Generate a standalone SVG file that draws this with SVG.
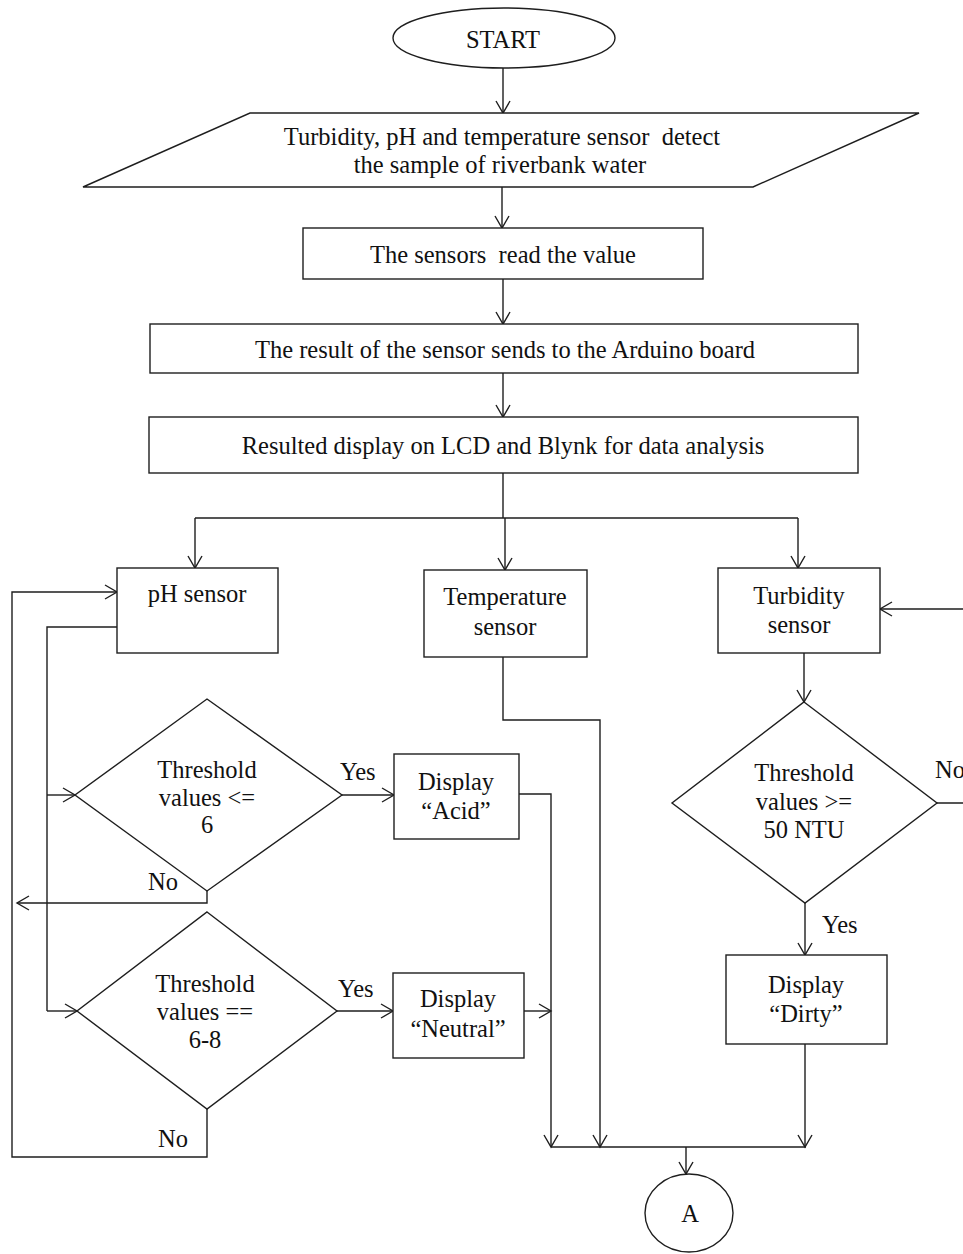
<svg xmlns="http://www.w3.org/2000/svg" width="963" height="1254" viewBox="0 0 963 1254">
<style>
.s{fill:#fff;stroke:#1e1e1e;stroke-width:1.4}
.c{fill:none;stroke:#1e1e1e;stroke-width:1.4}
text{font-family:"Liberation Serif","Times New Roman",serif;font-size:24.5px;fill:#111}
.m{text-anchor:middle}
</style>
<defs>
<marker id="ah" markerUnits="userSpaceOnUse" markerWidth="16" markerHeight="18" refX="13" refY="8" orient="auto">
<path d="M1,1 L13,8 L1,15" fill="none" stroke="#1e1e1e" stroke-width="1.4"/>
</marker>
</defs>
<rect width="963" height="1254" fill="#fff"/>
<g id="connectors">
<path class="c" d="M503,68 V113" marker-end="url(#ah)"/>
<path class="c" d="M502,187 V228" marker-end="url(#ah)"/>
<path class="c" d="M503,279 V324" marker-end="url(#ah)"/>
<path class="c" d="M503,373 V417" marker-end="url(#ah)"/>
<path class="c" d="M503,473 V518 M195,518 H798"/>
<path class="c" d="M195,518 V568" marker-end="url(#ah)"/>
<path class="c" d="M505,518 V570" marker-end="url(#ah)"/>
<path class="c" d="M798,518 V568" marker-end="url(#ah)"/>
<path class="c" d="M117,627 H47 V1011"/>
<path class="c" d="M47,795 H75" marker-end="url(#ah)"/>
<path class="c" d="M47,1011 H77" marker-end="url(#ah)"/>
<path class="c" d="M342,795 H394" marker-end="url(#ah)"/>
<path class="c" d="M207,891 V903 H17" marker-end="url(#ah)"/>
<path class="c" d="M337,1011 H393" marker-end="url(#ah)"/>
<path class="c" d="M207,1109 V1157 H12 V592 H117" marker-end="url(#ah)"/>
<path class="c" d="M519,794 H551 V1147" marker-end="url(#ah)"/>
<path class="c" d="M524,1011 H551" marker-end="url(#ah)"/>
<path class="c" d="M503,657 V720 H600 V1147" marker-end="url(#ah)"/>
<path class="c" d="M804,653 V702" marker-end="url(#ah)"/>
<path class="c" d="M937,803 H975 V609 H880" marker-end="url(#ah)"/>
<path class="c" d="M805,903 V955" marker-end="url(#ah)"/>
<path class="c" d="M805,1044 V1147" marker-end="url(#ah)"/>
<path class="c" d="M551,1147 H806"/>
<path class="c" d="M686,1147 V1174" marker-end="url(#ah)"/>
<text x="340" y="780">Yes</text>
<text x="148" y="890">No</text>
<text x="338" y="997">Yes</text>
<text x="158" y="1147">No</text>
<text x="935" y="778">No</text>
<text x="822" y="933">Yes</text>
</g>
<g id="start">
<ellipse class="s" cx="504" cy="38" rx="111" ry="30"/>
<text class="m" x="503" y="48">START</text>
</g>
<g id="input">
<polygon class="s" points="250,113 919,113 753,187 83,187"/>
<text class="m" x="502" y="145" xml:space="preserve">Turbidity, pH and temperature sensor  detect</text>
<text class="m" x="500" y="173">the sample of riverbank water</text>
</g>
<g id="read">
<rect class="s" x="303" y="228" width="400" height="51"/>
<text class="m" x="503" y="263" xml:space="preserve">The sensors  read the value</text>
</g>
<g id="send">
<rect class="s" x="150" y="324" width="708" height="49"/>
<text class="m" x="505" y="358">The result of the sensor sends to the Arduino board</text>
</g>
<g id="display">
<rect class="s" x="149" y="417" width="709" height="56"/>
<text class="m" x="503" y="454">Resulted display on LCD and Blynk for data analysis</text>
</g>
<g id="ph">
<rect class="s" x="117" y="568" width="161" height="85"/>
<text class="m" x="197" y="602">pH sensor</text>
</g>
<g id="temp">
<rect class="s" x="424" y="570" width="163" height="87"/>
<text class="m" x="505" y="605">Temperature</text>
<text class="m" x="505" y="635">sensor</text>
</g>
<g id="turb">
<rect class="s" x="718" y="568" width="162" height="85"/>
<text class="m" x="799" y="604">Turbidity</text>
<text class="m" x="799" y="633">sensor</text>
</g>
<g id="dec1">
<polygon class="s" points="207,699 342,795 207,891 75,795"/>
<text class="m" x="207" y="778">Threshold</text>
<text class="m" x="207" y="806">values &lt;=</text>
<text class="m" x="207" y="833">6</text>
</g>
<g id="acid">
<rect class="s" x="394" y="754" width="125" height="85"/>
<text class="m" x="456" y="790">Display</text>
<text class="m" x="456" y="819">“Acid”</text>
</g>
<g id="dec2">
<polygon class="s" points="207,912 337,1011 207,1109 77,1011"/>
<text class="m" x="205" y="992">Threshold</text>
<text class="m" x="205" y="1020">values ==</text>
<text class="m" x="205" y="1048">6-8</text>
</g>
<g id="neutral">
<rect class="s" x="393" y="973" width="131" height="85"/>
<text class="m" x="458" y="1007">Display</text>
<text class="m" x="458" y="1037">“Neutral”</text>
</g>
<g id="dec3">
<polygon class="s" points="804,702 937,803 805,903 672,803"/>
<text class="m" x="804" y="781">Threshold</text>
<text class="m" x="804" y="810">values &gt;=</text>
<text class="m" x="804" y="838">50 NTU</text>
</g>
<g id="dirty">
<rect class="s" x="726" y="955" width="161" height="89"/>
<text class="m" x="806" y="993">Display</text>
<text class="m" x="806" y="1022">“Dirty”</text>
</g>
<g id="conn-a">
<ellipse class="s" cx="689" cy="1213" rx="44" ry="39"/>
<text class="m" x="690" y="1222">A</text>
</g>
</svg>
